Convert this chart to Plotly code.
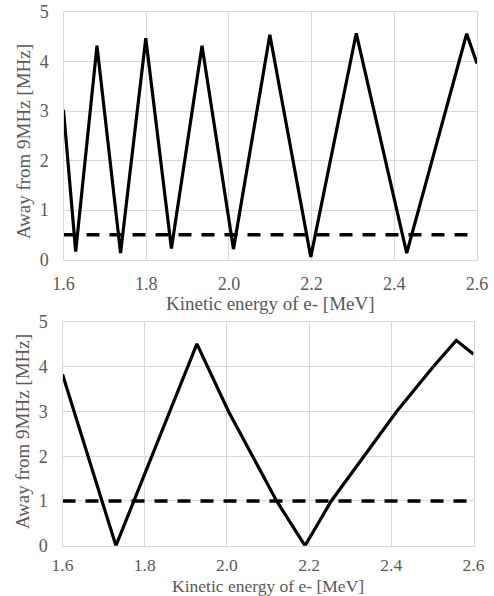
import plotly.graph_objects as go

# ---- data ----
top_x = [1.600, 1.6295, 1.681, 1.738, 1.799, 1.861, 1.935, 2.011, 2.099, 2.198, 2.308, 2.430, 2.575, 2.600]
top_y = [3.02, 0.16, 4.32, 0.13, 4.47, 0.22, 4.32, 0.21, 4.54, 0.05, 4.57, 0.13, 4.56, 3.96]
top_thr_x = [1.6, 2.6]
top_thr_y = [0.5, 0.5]

bot_x = [1.600, 1.730, 1.927, 2.004, 2.121, 2.190, 2.254, 2.333, 2.413, 2.502, 2.558, 2.600]
bot_y = [3.83, 0.0, 4.51, 3.0, 1.0, 0.0, 1.0, 2.0, 3.0, 4.0, 4.59, 4.28]
bot_thr_x = [1.6, 2.6]
bot_thr_y = [1.0, 1.0]

x_ticks = [1.6, 1.8, 2.0, 2.2, 2.4, 2.6]
x_ticktext = ["1.6", "1.8", "2.0", "2.2", "2.4", "2.6"]
y_ticks = [0, 1, 2, 3, 4, 5]

x_title = "Kinetic energy of e- [MeV]"
y_title = "Away from 9MHz [MHz]"

FONT = "Liberation Serif, Times New Roman, serif"
GRAY = "#595959"
GRID = "#d9d9d9"

fig = go.Figure()
fig.add_trace(go.Scatter(x=top_x, y=top_y, mode="lines", xaxis="x", yaxis="y",
                         line=dict(color="black", width=3.2), showlegend=False))
fig.add_trace(go.Scatter(x=top_thr_x, y=top_thr_y, mode="lines", xaxis="x", yaxis="y",
                         line=dict(color="black", width=3.4, dash="13px,10px"), showlegend=False))
fig.add_trace(go.Scatter(x=bot_x, y=bot_y, mode="lines", xaxis="x2", yaxis="y2",
                         line=dict(color="black", width=3.2), showlegend=False))
fig.add_trace(go.Scatter(x=bot_thr_x, y=bot_thr_y, mode="lines", xaxis="x2", yaxis="y2",
                         line=dict(color="black", width=3.4, dash="13px,10px"), showlegend=False))

W, H = 494, 596

def xa(domain, anchor, standoff, size):
    return dict(domain=domain, anchor=anchor, range=[1.6, 2.6], tickvals=x_ticks, ticktext=x_ticktext,
                showgrid=True, gridcolor=GRID, gridwidth=1.3, zeroline=False,
                showline=True, linecolor=GRID, linewidth=1.3, mirror=True,
                ticks="", ticklabelstandoff=standoff, automargin=False,
                tickfont=dict(family=FONT, size=size, color=GRAY))

def ya(domain, anchor):
    return dict(domain=domain, anchor=anchor, range=[0, 5], tickvals=y_ticks,
                showgrid=True, gridcolor=GRID, gridwidth=1.3, zeroline=False,
                showline=True, linecolor=GRID, linewidth=1.3, mirror=True,
                ticks="", ticklabelstandoff=10, automargin=False,
                tickfont=dict(family=FONT, size=18, color=GRAY))

top_y_dom = [1 - 259.5 / H, 1 - 12 / H]
bot_y_dom = [1 - 545.7 / H, 1 - 322 / H]

fig.update_layout(
    width=W, height=H,
    margin=dict(l=0, r=0, t=0, b=0, autoexpand=False),
    paper_bgcolor="white", plot_bgcolor="white",
    xaxis=xa([63.5 / W, 477 / W], "y", 8, 18),
    yaxis=ya(top_y_dom, "x"),
    xaxis2=xa([62.5 / W, 473.5 / W], "y2", 3, 17.5),
    yaxis2=ya(bot_y_dom, "x2"),
    annotations=[
        dict(text=x_title, xref="paper", yref="paper", x=(63.5 + 477) / 2 / W, y=1 - 303 / H,
             showarrow=False, xanchor="center", yanchor="middle",
             font=dict(family=FONT, size=19, color=GRAY)),
        dict(text=x_title, xref="paper", yref="paper", x=(62.5 + 473.5) / 2 / W, y=1 - 585.5 / H,
             showarrow=False, xanchor="center", yanchor="middle",
             font=dict(family=FONT, size=17.5, color=GRAY)),
        dict(text=y_title, xref="paper", yref="paper", x=23 / W, y=1 - 142 / H,
             showarrow=False, xanchor="center", yanchor="middle", textangle=-90,
             font=dict(family=FONT, size=19, color=GRAY)),
        dict(text=y_title, xref="paper", yref="paper", x=22 / W, y=1 - 432 / H,
             showarrow=False, xanchor="center", yanchor="middle", textangle=-90,
             font=dict(family=FONT, size=19, color=GRAY)),
    ],
)

fig.write_html("out.html", config={"displayModeBar": False},
               post_script="document.body.style.margin='0';")
